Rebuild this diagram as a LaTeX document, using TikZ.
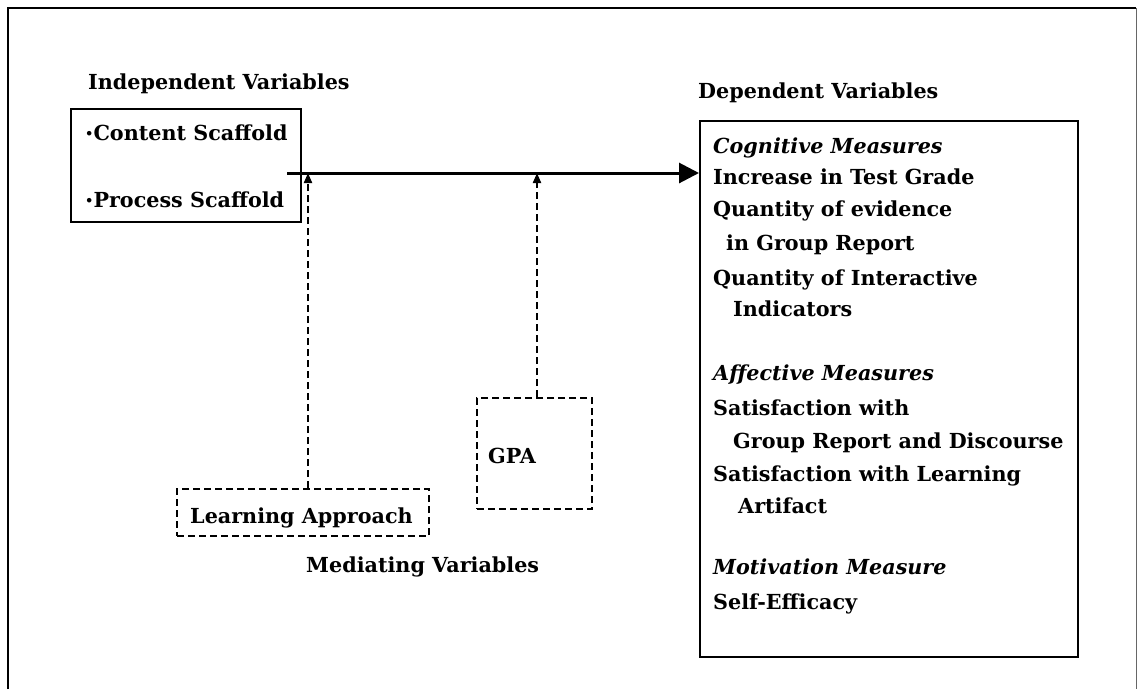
\documentclass[tikz,border=0pt]{standalone}
\usepackage{fontspec}
\setmainfont{DejaVu Serif}
\usetikzlibrary{arrows.meta}
\newcommand{\smallbullet}{{\fontsize{13}{13}\selectfont\raisebox{2pt}{•}}}
\begin{document}
\begin{tikzpicture}[x=1pt,y=-1pt,
  txt/.style={anchor=base west,inner sep=0pt,font=\fontsize{20.7}{24}\selectfont\bfseries},
  head/.style={txt,font=\fontsize{20.7}{24}\selectfont\bfseries\itshape},
  solidbox/.style={draw,line width=2pt,rectangle,inner sep=0pt},
  dashbox/.style={draw,line width=2pt,dash pattern=on 7pt off 4pt,rectangle,inner sep=0pt},
  mainarrow/.style={line width=3pt,-{Triangle[length=20pt,width=20pt]}},
  dasharrow/.style={line width=2pt,dash pattern=on 7pt off 4pt,-{Triangle[length=10pt,width=8pt]}}]
\useasboundingbox (0,0) rectangle (1138,689);
\fill[white] (0,0) rectangle (1138,689);

% outer frame (open at the foot of the page)
\draw[line width=2.5pt] (8,689) -- (8,8) -- (1136,8);
\draw[line width=1pt,black!60] (1136,8) -- (1136,689);

% independent variables
\node[txt] (ivhead) at (88,89) {Independent Variables};
\node[solidbox,minimum width=230pt,minimum height=113pt] (iv) at (186,165.5) {};
\node[txt] (iv1) at (85,140) {\smallbullet Content Scaffold};
\node[txt] (iv2) at (85,207) {\smallbullet Process Scaffold};

% dependent variables
\node[txt] (dvhead) at (698,98) {Dependent Variables};
\node[solidbox,minimum width=378pt,minimum height=536pt] (dv) at (889,389) {};
\node[head] (cog) at (713,153) {Cognitive Measures};
\node[txt] (c1) at (713,184) {Increase in Test Grade};
\node[txt] (c2) at (713,216) {Quantity of evidence};
\node[txt] (c3) at (726,250) {in Group Report};
\node[txt] (c4) at (713,285) {Quantity of Interactive};
\node[txt] (c5) at (733,316) {Indicators};
\node[head] (aff) at (713,380) {Affective Measures};
\node[txt] (a1) at (713,415) {Satisfaction with};
\node[txt] (a2) at (733,448) {Group Report and Discourse};
\node[txt] (a3) at (713,481) {Satisfaction with Learning};
\node[txt] (a4) at (738,513) {Artifact};
\node[head] (mot) at (713,574) {Motivation Measure};
\node[txt] (m1) at (713,609) {Self-Efficacy};

% mediating variables
\node[dashbox,minimum width=252pt,minimum height=47pt] (la) at (303,512.5) {};
\node[txt] (latxt) at (190,523) {Learning Approach};
\node[dashbox,minimum width=115pt,minimum height=111pt] (gpa) at (534.5,453.5) {};
\node[txt] (gpatxt) at (488,463) {GPA};
\node[txt] (medhead) at (306,572) {Mediating Variables};

% connectors
\coordinate (start) at (287,173);
\coordinate (j1) at (308,173);
\coordinate (j2) at (537,173);
\draw[mainarrow] (start) -- (start -| dv.west);
\draw[dasharrow] (j1 |- la.north) -- (j1);
\draw[dasharrow] (j2 |- gpa.north) -- (j2);
\end{tikzpicture}
\end{document}
